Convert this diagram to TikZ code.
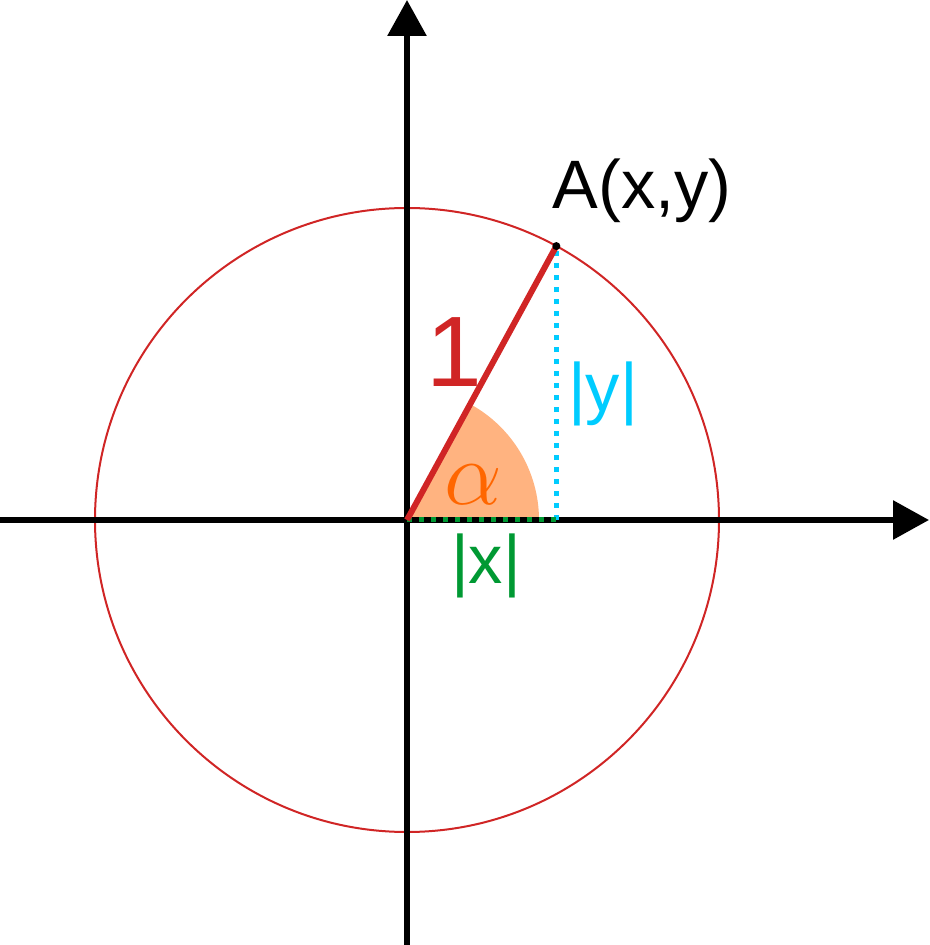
\documentclass[tikz,border=0pt]{standalone}
\usepackage{fontspec}
\setmainfont{Liberation Sans}
\usepackage{amsmath}
\usepackage{graphicx}
\usetikzlibrary{arrows.meta}
\definecolor{radred}{RGB}{208,37,37}
\definecolor{ycyan}{RGB}{0,204,255}
\definecolor{xgreen}{RGB}{0,153,51}
\definecolor{sectorfill}{RGB}{255,179,128}
\definecolor{alphaorange}{RGB}{255,102,0}
\tikzset{
  axis/.style={line width=0.12cm, -{Triangle[length=0.72cm, width=0.76cm]}},
  proj/.style={line width=0.1cm, dash pattern=on 0.1cm off 0.14cm},
  lbl/.style={anchor=base, inner sep=0pt, font=\fontsize{39}{47}\selectfont}
}
\begin{document}
\begin{tikzpicture}[x=0.02cm, y=0.02cm]
\useasboundingbox (-407,-425) rectangle (522,520);
\coordinate (o) at (0,0);
\coordinate (a) at (61.4:312);
\coordinate (ax) at (a |- o);
\coordinate (xl) at (-407,0);
\coordinate (xr) at (522,0);
\coordinate (yb) at (0,-425);
\coordinate (yt) at (0,520);
 \fill[color=sectorfill] (o) -- (132,0) arc (0:61.4:132) -- cycle;
 \draw[color=radred, line width=0.04cm] (o) circle (312);
 \draw[axis] (xl) -- (xr);
 \draw[axis] (yb) -- (yt);
 \draw[proj, color=ycyan] (ax) -- (a);
 \draw[proj, color=xgreen] (o) -- (ax);
 \draw[color=radred, line width=0.12cm] (o) -- (a);
 \fill (a) circle (4);
 \node[lbl] (alab) at (235,311) {A(x,y)};
 \node[lbl, color=radred, font=\fontsize{57}{68}\selectfont] (one) at (47,133) {1};
 \node[lbl, color=ycyan] (ylab) at (196,108) {|y|};
 \node[lbl, color=xgreen] (xlab) at (79,-64) {|x|};
 \node[lbl, color=alphaorange, font=\fontsize{24.88}{30}\selectfont] (alpha) at (66,15) {\scalebox{2.1}{$\alpha$}};
\end{tikzpicture}
\end{document}
